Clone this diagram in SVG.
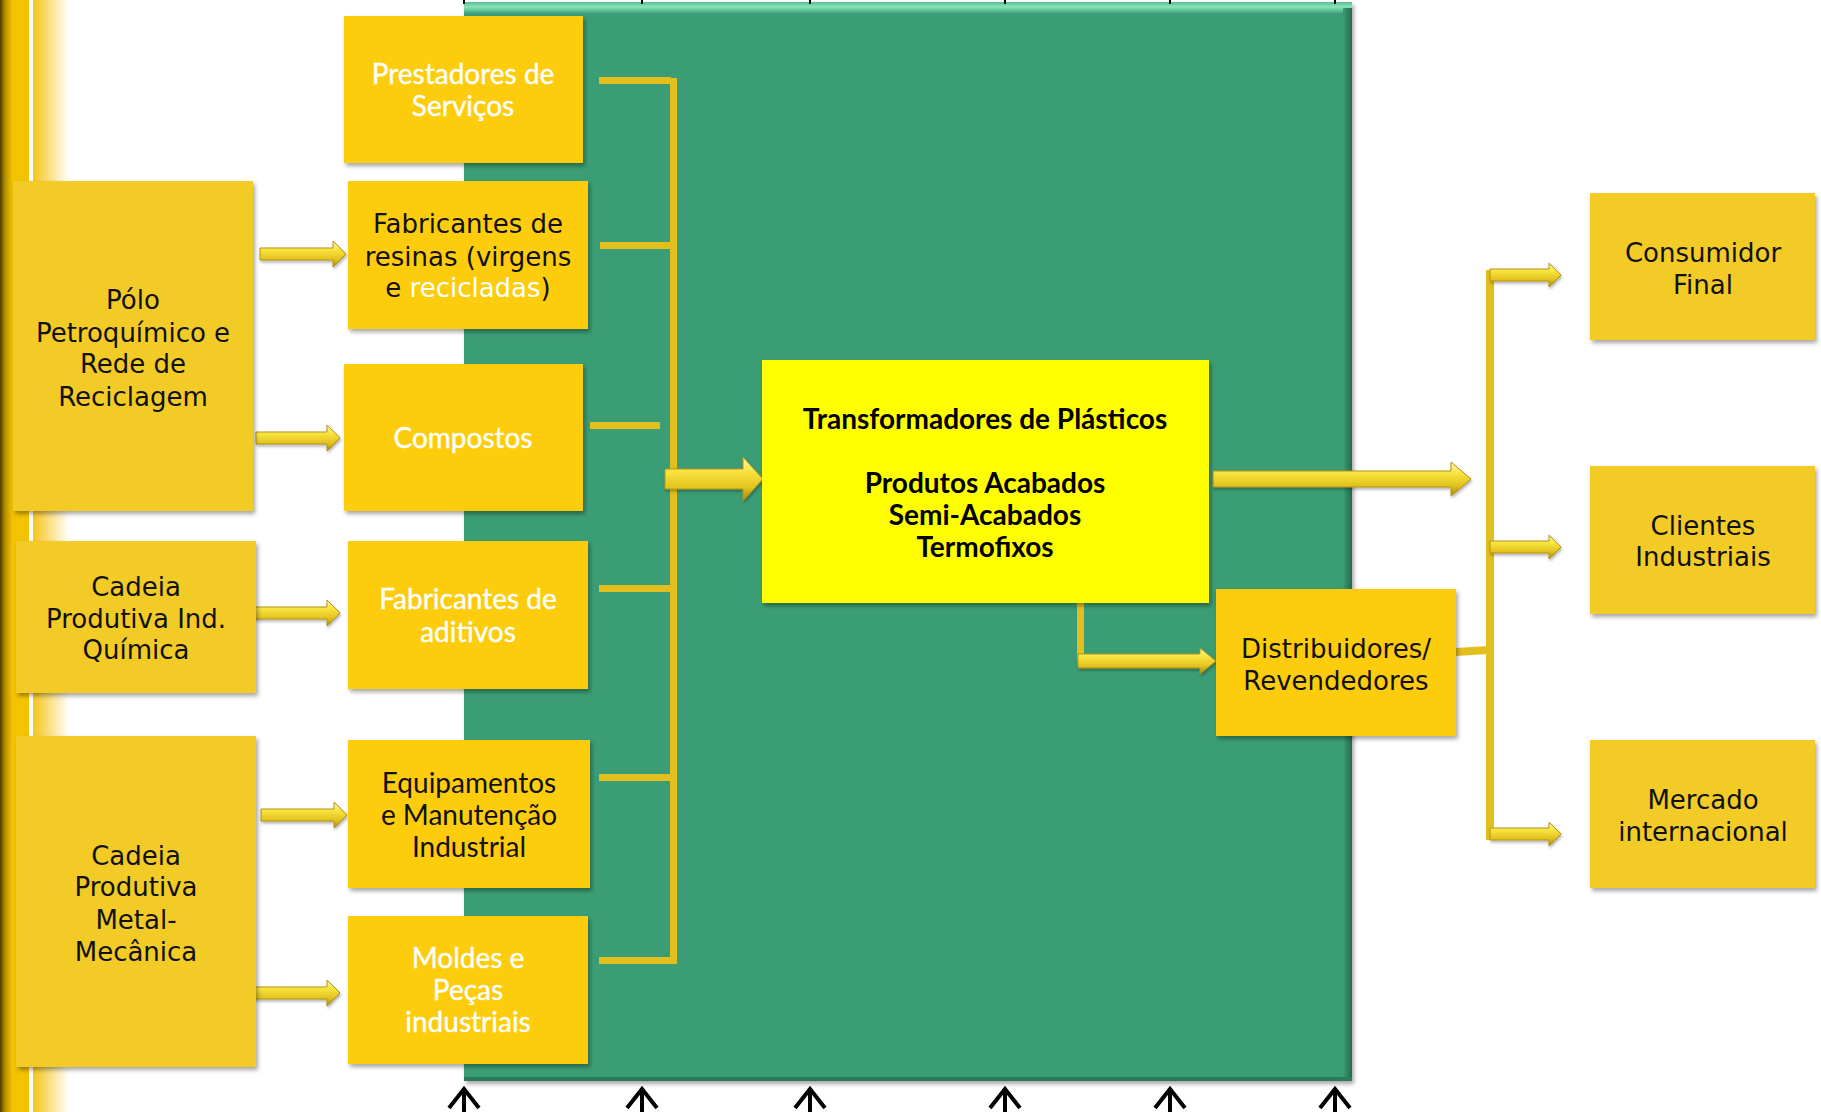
<svg xmlns="http://www.w3.org/2000/svg" width="1821" height="1112" viewBox="0 0 1821 1112">
  <defs>
    <linearGradient id="edgeDark" x1="0" y1="0" x2="1" y2="0">
      <stop offset="0" stop-color="#4A3800"/>
      <stop offset="0.4" stop-color="#B08C00"/>
      <stop offset="1" stop-color="#F2C200"/>
    </linearGradient>
    <linearGradient id="edgeFade" x1="0" y1="0" x2="1" y2="0">
      <stop offset="0" stop-color="#F6C41A"/>
      <stop offset="1" stop-color="#FFFFFF"/>
    </linearGradient>
    <linearGradient id="panelTop" x1="0" y1="0" x2="0" y2="1">
      <stop offset="0" stop-color="#5BB98E"/>
      <stop offset="0.4" stop-color="#86E6B9"/>
      <stop offset="1" stop-color="#3A9D74"/>
    </linearGradient>
    <linearGradient id="panelRight" x1="0" y1="0" x2="1" y2="0">
      <stop offset="0" stop-color="#3A9D74"/>
      <stop offset="1" stop-color="#25684B"/>
    </linearGradient>
    <linearGradient id="arrowFill" x1="0" y1="0" x2="0" y2="1">
      <stop offset="0" stop-color="#FFF7A8"/>
      <stop offset="0.35" stop-color="#F8E23C"/>
      <stop offset="0.7" stop-color="#E2C21E"/>
      <stop offset="1" stop-color="#A4870E"/>
    </linearGradient>
    <filter id="shadow" x="-10%" y="-10%" width="130%" height="130%">
      <feDropShadow dx="2" dy="3" stdDeviation="2" flood-color="#000" flood-opacity="0.35"/>
    </filter>
    <filter id="arrowShadow" x="-10%" y="-30%" width="130%" height="180%">
      <feDropShadow dx="1" dy="2" stdDeviation="1.5" flood-color="#000" flood-opacity="0.3"/>
    </filter>
  </defs>
  <style>
    .box-a { fill: #FDCD07; filter: url(#shadow); }
    .box-b { fill: #F2CB25; filter: url(#shadow); }
    .core { fill: #FFFF00; filter: url(#shadow); }
    .t-g { font-family: "DejaVu Sans", "Liberation Sans", sans-serif; font-size: 26px; fill: #111; text-anchor: middle; }
    .t-c { font-family: Lato, "Liberation Sans", sans-serif; font-size: 28px; text-anchor: middle; }
    .t-b { font-family: Lato, "Liberation Sans", sans-serif; font-size: 28px; font-weight: bold; fill: #000; text-anchor: middle; }
    .white { fill: #FFFFFF; stroke: #FFFFFF; stroke-width: 0.35px; }
    .dark { fill: #111111; }
    .bar { fill: #E3BF1E; }
    .arrow3d { fill: url(#arrowFill); stroke: #B69410; stroke-width: 1; filter: url(#arrowShadow); }
    .up { fill: none; stroke: #000; stroke-width: 4; }
    .tick { fill: none; stroke: #000; stroke-width: 2; }
  </style>

  <rect x="0" y="0" width="1821" height="1112" fill="#FFFFFF"/>

  <!-- left decorative edge -->
  <g id="edge">
    <rect x="0" y="0" width="12" height="1112" fill="url(#edgeDark)"/>
    <rect x="12" y="0" width="17" height="1112" fill="#F3C200"/>
    <rect x="29" y="0" width="4" height="1112" fill="#FFFFFF"/>
    <rect x="33" y="0" width="36" height="1112" fill="url(#edgeFade)"/>
  </g>

  <!-- green background panel -->
  <g id="panel">
    <rect x="464" y="2" width="888" height="1079" fill="#3A9D74" filter="url(#shadow)"/>
    <rect x="464" y="2" width="888" height="12" fill="url(#panelTop)"/>
    <rect x="1343" y="8" width="9" height="1073" fill="url(#panelRight)"/>
    <rect x="464" y="1077" width="888" height="4" fill="#2C7A58"/>
  </g>

  <!-- connectors -->
  <g id="connectors">
    <!-- collector bracket on the supplier side -->
    <rect class="bar" x="670" y="78" width="7" height="886"/>
    <rect class="bar" x="599" y="77" width="72" height="7"/>
    <rect class="bar" x="600" y="242" width="71" height="7"/>
    <rect class="bar" x="590" y="422" width="70" height="7"/>
    <rect class="bar" x="599" y="585" width="72" height="7"/>
    <rect class="bar" x="599" y="774" width="72" height="7"/>
    <rect class="bar" x="599" y="957" width="72" height="7"/>
    <!-- elbow down to distributors -->
    <rect class="bar" x="1077" y="603" width="7" height="59"/>
    <!-- market bracket -->
    <rect class="bar" x="1486" y="270" width="8" height="570"/>
    <polygon class="bar" points="1456,648 1488,646 1488,654 1456,656"/>

    <!-- supply chain arrows -->
    <path class="arrow3d" d="M260 248 H333 V241 L346 254 L333 267 V260 H260 Z"/>
    <path class="arrow3d" d="M256 432 H327 V425 L340 438 L327 451 V444 H256 Z"/>
    <path class="arrow3d" d="M254 607 H327 V600 L340 613 L327 626 V619 H254 Z"/>
    <path class="arrow3d" d="M261 809 H334 V802 L347 815 L334 828 V821 H261 Z"/>
    <path class="arrow3d" d="M254 987 H327 V980 L340 993 L327 1006 V999 H254 Z"/>

    <!-- into and out of the transformers -->
    <path class="arrow3d" d="M665 469 H743 V457 L763 479 L743 501 V489 H665 Z"/>
    <path class="arrow3d" d="M1213 471 H1451 V462 L1471 479 L1451 496 V487 H1213 Z"/>
    <path class="arrow3d" d="M1078 654 H1200 V648 L1216 661 L1200 674 V668 H1078 Z"/>

    <!-- market arrows -->
    <path class="arrow3d" d="M1490 269 H1549 V263 L1561 275 L1549 287 V281 H1490 Z"/>
    <path class="arrow3d" d="M1490 541 H1549 V535 L1561 547 L1549 559 V553 H1490 Z"/>
    <path class="arrow3d" d="M1490 828 H1549 V822 L1561 834 L1549 846 V840 H1490 Z"/>

    <!-- incoming arrows along the bottom, ticks along the top -->
    <path class="up" d="M449 1108 L464 1089 L479 1108 M464 1090 V1112"/>
    <path class="up" d="M627 1108 L642 1089 L657 1108 M642 1090 V1112"/>
    <path class="up" d="M795 1108 L810 1089 L825 1108 M810 1090 V1112"/>
    <path class="up" d="M990 1108 L1005 1089 L1020 1108 M1005 1090 V1112"/>
    <path class="up" d="M1155 1108 L1170 1089 L1185 1108 M1170 1090 V1112"/>
    <path class="up" d="M1320 1108 L1335 1089 L1350 1108 M1335 1090 V1112"/>
    <path class="tick" d="M464 0 V4 M642 0 V4 M810 0 V4 M1005 0 V4 M1170 0 V4 M1335 0 V4"/>
  </g>

  <!-- left column: upstream chains -->
  <g id="polo">
    <rect class="box-b" x="13" y="181" width="240" height="330"/>
    <text class="t-g" x="133" y="309">Pólo</text>
    <text class="t-g" x="133" y="342">Petroquímico e</text>
    <text class="t-g" x="133" y="373">Rede de</text>
    <text class="t-g" x="133" y="406">Reciclagem</text>
  </g>
  <g id="quimica">
    <rect class="box-b" x="16" y="541" width="240" height="152"/>
    <text class="t-g" x="136" y="596">Cadeia</text>
    <text class="t-g" x="136" y="628">Produtiva Ind.</text>
    <text class="t-g" x="136" y="659">Química</text>
  </g>
  <g id="metal">
    <rect class="box-b" x="16" y="736" width="240" height="331"/>
    <text class="t-g" x="136" y="865">Cadeia</text>
    <text class="t-g" x="136" y="896">Produtiva</text>
    <text class="t-g" x="136" y="929">Metal-</text>
    <text class="t-g" x="136" y="961">Mecânica</text>
  </g>

  <!-- middle column: suppliers -->
  <g id="prestadores">
    <rect class="box-a" x="344" y="16" width="239" height="147"/>
    <text class="t-c white" x="463" y="84">Prestadores de</text>
    <text class="t-c white" x="463" y="116">Serviços</text>
  </g>
  <g id="resinas">
    <rect class="box-a" x="348" y="181" width="240" height="148"/>
    <text class="t-g" x="468" y="233">Fabricantes de</text>
    <text class="t-g" x="468" y="266">resinas (virgens</text>
    <text class="t-g" x="468" y="297">e <tspan fill="#FFFFFF">recicladas</tspan>)</text>
  </g>
  <g id="compostos">
    <rect class="box-a" x="344" y="364" width="239" height="147"/>
    <text class="t-c white" x="463" y="448">Compostos</text>
  </g>
  <g id="aditivos">
    <rect class="box-a" x="348" y="541" width="240" height="148"/>
    <text class="t-c white" x="468" y="609">Fabricantes de</text>
    <text class="t-c white" x="468" y="642">aditivos</text>
  </g>
  <g id="equipamentos">
    <rect class="box-a" x="348" y="740" width="242" height="148"/>
    <text class="t-c dark" x="469" y="793">Equipamentos</text>
    <text class="t-c dark" x="469" y="825">e Manutenção</text>
    <text class="t-c dark" x="469" y="857">Industrial</text>
  </g>
  <g id="moldes">
    <rect class="box-a" x="348" y="916" width="240" height="148"/>
    <text class="t-c white" x="468" y="968">Moldes e</text>
    <text class="t-c white" x="468" y="1000">Peças</text>
    <text class="t-c white" x="468" y="1032">industriais</text>
  </g>

  <!-- core node -->
  <g id="transformadores">
    <rect class="core" x="762" y="360" width="447" height="243"/>
    <text class="t-b" x="985" y="429">Transformadores de Plásticos</text>
    <text class="t-b" x="985" y="493">Produtos Acabados</text>
    <text class="t-b" x="985" y="525">Semi-Acabados</text>
    <text class="t-b" x="985" y="557">Termofixos</text>
  </g>

  <g id="distribuidores">
    <rect class="box-a" x="1216" y="589" width="240" height="147"/>
    <text class="t-g" x="1336" y="658">Distribuidores/</text>
    <text class="t-g" x="1336" y="690">Revendedores</text>
  </g>

  <!-- right column: markets -->
  <g id="consumidor">
    <rect class="box-b" x="1590" y="193" width="225" height="147"/>
    <text class="t-g" x="1703" y="262">Consumidor</text>
    <text class="t-g" x="1703" y="294">Final</text>
  </g>
  <g id="clientes">
    <rect class="box-b" x="1590" y="466" width="225" height="148"/>
    <text class="t-g" x="1703" y="535">Clientes</text>
    <text class="t-g" x="1703" y="566">Industriais</text>
  </g>
  <g id="mercado">
    <rect class="box-b" x="1590" y="740" width="225" height="148"/>
    <text class="t-g" x="1703" y="809">Mercado</text>
    <text class="t-g" x="1703" y="841">internacional</text>
  </g>
</svg>
